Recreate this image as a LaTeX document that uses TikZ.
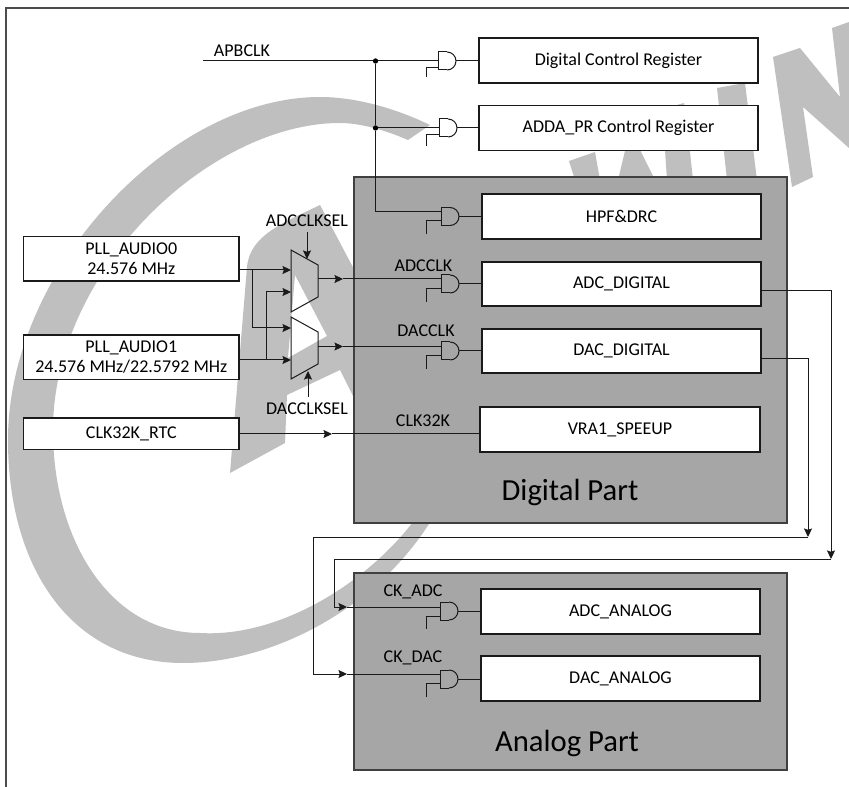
\documentclass[tikz,border=0pt]{standalone}
\usepackage{fontspec}
\setmainfont{Carlito}
\usetikzlibrary{arrows.meta}
\definecolor{wm}{HTML}{BFBFBF}
\definecolor{partgray}{HTML}{A6A6A6}
\definecolor{edge}{HTML}{1A1A1A}
\newcommand{\dn}[1]{\raisebox{-1.2pt}{#1}}
\tikzset{
  x=0.75pt,y=-0.75pt,
  wire/.style={draw=edge,line width=0.75pt},
  tipwire/.style={wire,-{Stealth[length=6.4pt,width=6pt,inset=1pt]}},
  bx/.style 2 args={draw=edge,fill=white,line width=0.8pt,inner sep=0pt,align=center,
    minimum width=#1*0.75pt,minimum height=#2*0.75pt,font=\fontsize{13.5}{15}\selectfont},
  part/.style 2 args={draw=black!75,fill=partgray,line width=0.9pt,inner sep=0pt,
    minimum width=#1*0.75pt,minimum height=#2*0.75pt},
  lbl/.style={inner sep=0pt,font=\fontsize{13.5}{15}\selectfont},
  big/.style={inner sep=0pt,font=\fontsize{23}{26}\selectfont},
  dot/.style={circle,fill=black,inner sep=0pt,minimum size=4pt},
  % AND gate: origin = left edge, vertical centre
  andgate/.pic={
    \draw[wire] (9,-9) -- (0,-9) -- (0,9) -- (9,9);
    \draw[wire] (9,-9) arc[start angle=90,end angle=-90,radius=6.75pt];
    \coordinate (-a) at (0,-4.5);
    \coordinate (-b) at (0,4.5);
    \coordinate (-o) at (18,0);
  },
}
\begin{document}
\begin{tikzpicture}
\useasboundingbox (0,0) rectangle (849,787);
% watermark
\fill[wm] (430,125) .. controls (395,108) and (355,97) .. (320,97)
  .. controls (170,97) and (8,270) .. (8,440)
  .. controls (8,570) and (73,663) .. (183,663)
  .. controls (280,663) and (390,600) .. (440,505)
  -- (425,505)
  .. controls (380,575) and (285,638) .. (200,633)
  .. controls (110,633) and (53,540) .. (53,430)
  .. controls (53,270) and (210,123) .. (340,123)
  .. controls (360,123) and (385,130) .. (408,140) -- cycle;
\fill[wm,even odd rule] (320,205) .. controls (283,223) and (250,235) .. (247,267) -- (230,473) -- (285,443) -- (287,395) -- (340,370) -- (365,420) -- (365,290) -- cycle
  (295,275) -- (327,336) -- (288,358) -- cycle;
\fill[wm] (773,57) -- (800,48) -- (840,97) -- (832,28) -- (849,22) -- (849,148) -- (803,107) -- (813,177) -- (792,187) -- cycle;
\fill[wm] (717,88) -- (745,83) -- (757,180) -- (727,180) -- cycle;
\fill[wm] (569,161) -- (595,152) -- (600,180) -- (575,180) -- cycle;
\fill[wm] (618,180) -- (630,130) -- (655,180) -- cycle;
\fill[wm] (667,180) -- (665,150) -- (677,105) -- (684,103) -- (690,152) -- (693,180) -- cycle;
% frame
\coordinate (frameTR) at (849,8);
\coordinate (frameTL) at (6,8);
\coordinate (frameBL) at (6,787);
\draw[draw=black!70,line width=1pt] (frameTR) -- (frameTL) -- (frameBL);
% parts
\node[part={433}{346}] (digital) at (570.5,350) {};
\node[part={433}{197}] (analog) at (570.5,671.5) {};
\node[big] (digitallbl) at (570,492) {Digital Part};
\node[big] (analoglbl) at (567,743) {Analog Part};
% boxes
\node[bx={279}{45}] (dcr) at (618.5,60.5) {\dn{Digital Control Register}};
\node[bx={279}{45}] (adda) at (618.5,128) {\dn{ADDA\_PR Control Register}};
\node[bx={279}{45}] (hpf) at (621.5,216.5) {\dn{HPF\&DRC}};
\node[bx={279}{44}] (adcd) at (621.5,284) {\dn{ADC\_DIGITAL}};
\node[bx={279}{44}] (dacd) at (621.5,351) {\dn{DAC\_DIGITAL}};
\node[bx={280}{45}] (vra) at (620,429.5) {\dn{VRA1\_SPEEUP}};
\node[bx={279}{45}] (adca) at (620.5,611.5) {\dn{ADC\_ANALOG}};
\node[bx={279}{45}] (daca) at (620.5,678.5) {\dn{DAC\_ANALOG}};
\node[bx={215.5}{44.5}] (pll0) at (131.25,258.75) {\dn{PLL\_AUDIO0}\\\dn{24.576 MHz}};
\node[bx={215.5}{44.5}] (pll1) at (131.25,357.25) {\dn{PLL\_AUDIO1}\\\dn{24.576 MHz/22.5792 MHz}};
\node[bx={215.5}{31.5}] (rtc) at (131.25,433.75) {\dn{CLK32K\_RTC}};
% gates
\pic (g1) at (438,61) {andgate};
\pic (g2) at (439,128) {andgate};
\pic (g3) at (441,216.5) {andgate};
\pic (g4) at (441,284) {andgate};
\pic (g5) at (441,351) {andgate};
\pic (g6) at (440,611) {andgate};
\pic (g7) at (440,679) {andgate};
\foreach \g/\s/\y in {g1/68/77,g2/135/146,g3/221/234,g4/289/302,g5/356/369,g6/616/629,g7/683/697}{
  \coordinate (\g-c) at (426,\y);
  \coordinate (\g-s) at (0,\s);
  \draw[wire] (\g-b |- \g-s) -| (\g-c);
}
\foreach \g/\b in {g1/dcr,g2/adda,g3/hpf,g4/adcd,g5/dacd,g6/adca,g7/daca}{
  \draw[wire] (\g-o) -- (\g-o -| \b.west);
}
% APB clock
\coordinate (apb) at (203,61);
\node[dot] (j1) at (375.5,61) {};
\node[dot] (j2) at (375.5,128) {};
\coordinate (g3in) at (375.5,212);
\draw[wire] (apb) -- (j1) -- (g1-a |- j1);
\draw[wire] (j1) -- (j2) -- (g3in) -- (g3-a |- g3in);
\draw[wire] (j2) -- (g2-a |- j2);
\node[lbl] (apblbl) at (242,51) {APBCLK};
% muxes
\coordinate (m1a) at (291,250); \coordinate (m1b) at (318,265);
\coordinate (m1c) at (318,297); \coordinate (m1d) at (291,312);
\coordinate (m2a) at (291,317); \coordinate (m2b) at (318,332);
\coordinate (m2c) at (318,364); \coordinate (m2d) at (291,379);
\draw[wire] (m1a) -- (m1b) -- (m1c) -- (m1d) -- cycle;
\draw[wire] (m2a) -- (m2b) -- (m2c) -- (m2d) -- cycle;
% mux inputs
\coordinate (p0out) at (239,270);
\coordinate (p1out) at (239,360);
\coordinate (t1) at (252,270);
\coordinate (t2) at (266,360);
\coordinate (m1i1) at (291,270);
\coordinate (m1i2) at (291,292);
\coordinate (m2i1) at (291,328);
\coordinate (m2i2) at (291,360);
\draw[tipwire] (p0out) -- (m1i1);
\draw[tipwire] (t1) |- (m2i1);
\draw[tipwire] (p1out) -- (m2i2);
\draw[tipwire] (t2) |- (m1i2);
% mux outputs
\coordinate (m1o) at (318,279);
\coordinate (m2o) at (318,346.5);
\coordinate (m1t) at (343,279);
\coordinate (m2t) at (343,346.5);
\draw[tipwire] (m1o) -- (m1t);
\draw[tipwire] (m2o) -- (m2t);
\draw[wire] (m1t) -- (g4-a |- m1t);
\draw[wire] (m2t) -- (g5-a |- m2t);
% selects
\node[lbl] (adcsel) at (307,221) {ADCCLKSEL};
\node[lbl] (dacsel) at (307,409) {DACCLKSEL};
\coordinate (s1) at (307,232);
\coordinate (s1t) at (307,259);
\coordinate (s2) at (308,397);
\coordinate (s2t) at (308,371);
\draw[tipwire] (s1) -- (s1t);
\draw[tipwire] (s2) -- (s2t);
% CLK32K
\coordinate (rtcout) at (239,434);
\coordinate (rtct) at (332,434);
\draw[tipwire] (rtcout) -- (rtct);
\draw[wire] (rtct) -- (vra.west |- rtct);
% routes
\coordinate (adcout) at (761,291);
\coordinate (dacout) at (761,359);
\coordinate (r1) at (831,291);
\coordinate (r1t) at (831,559);
\coordinate (r1l) at (334,559);
\coordinate (r1d) at (334,607);
\coordinate (r1a) at (347,607);
\coordinate (r2) at (808,359);
\coordinate (r2t) at (808,537);
\coordinate (r2l) at (313,537);
\coordinate (r2d) at (313,674);
\coordinate (r2a) at (347,674);
\draw[wire] (r1t) -- (r1l) -- (r1d);
\draw[tipwire] (r1d) -- (r1a);
\draw[wire] (r1a) -- (g6-a |- r1a);
\draw[wire] (r2t) -- (r2l) -- (r2d);
\draw[tipwire] (r2d) -- (r2a);
\draw[wire] (r2a) -- (g7-a |- r2a);
\draw[tipwire] (adcout) -- (r1) -- (r1t);
\draw[tipwire] (dacout) -- (r2) -- (r2t);
% clock labels
\node[lbl] (adcclk) at (423.5,266) {ADCCLK};
\node[lbl] (dacclk) at (426,331) {DACCLK};
\node[lbl] (clk32) at (423,421) {CLK32K};
\node[lbl] (ckadc) at (413,592) {CK\_ADC};
\node[lbl] (ckdac) at (413,658) {CK\_DAC};
\end{tikzpicture}
\end{document}
